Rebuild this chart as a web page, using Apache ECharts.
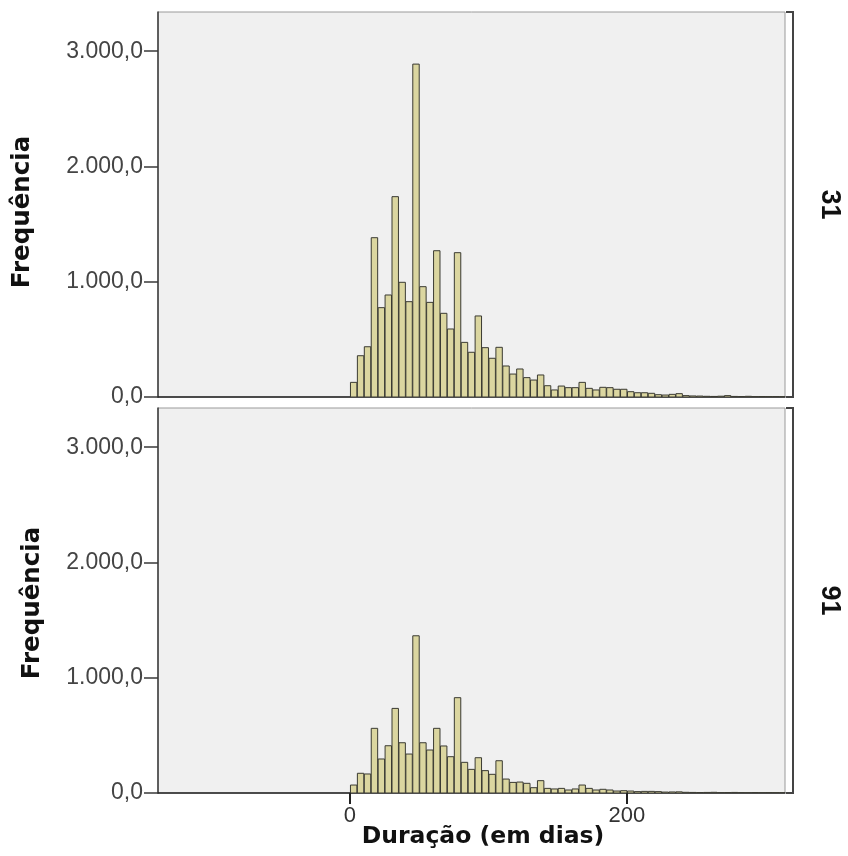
<!DOCTYPE html>
<html>
<head>
<meta charset="utf-8">
<script src="https://cdn.jsdelivr.net/npm/echarts@6/dist/echarts.min.js"></script>
<style>
html,body{margin:0;padding:0;background:#ffffff;}
#chart{width:848px;height:856px;}
</style>
</head>
<body>
<div id="chart"></div>
<script>
// ---- data ----
var BIN_WIDTH = 5;           // days per bin (bins start at 0)
var panelLabels = ['31', '91'];
var freq31 = [127, 358, 436, 1382, 775, 885, 1738, 995, 827, 2888,
              957, 821, 1269, 726, 590, 1252, 474, 388, 703, 428,
              336, 431, 269, 199, 243, 168, 147, 191, 98, 61,
              95, 81, 81, 127, 75, 61, 84, 81, 67, 67,
              46, 37, 37, 32, 20, 17, 23, 29, 12, 9,
              8, 6, 5, 7, 12, 5, 4, 6, 3, 4,
              3, 3, 2];
var freq91 = [69, 171, 165, 561, 295, 410, 734, 436, 338, 1364,
              436, 373, 561, 408, 315, 827, 266, 205, 306, 194,
              162, 280, 121, 92, 95, 84, 46, 107, 40, 35,
              40, 26, 35, 69, 40, 26, 32, 26, 17, 20,
              17, 12, 14, 14, 12, 8, 9, 10, 6, 5,
              4, 5, 6, 3, 4, 5, 3, 2, 4, 2,
              3, 2, 2];
var xTicks = [0, 200];
var yTicks = [0, 1000, 2000, 3000];
var xMin = -138.6, xMax = 314.1;
var yMin = 0, yMax = 3340;

// ---- styling ----
var BAR_FILL = '#dbd6a0';
var BAR_STROKE = '#3a3a32';
var PLOT_BG = '#f0f0f0';

function toBins(arr) {
  return arr.map(function (v, i) { return [i * BIN_WIDTH, (i + 1) * BIN_WIDTH, v]; });
}
function fmtNum(v) {
  var s = String(Math.round(v));
  s = s.replace(/\B(?=(\d{3})+(?!\d))/g, '.');
  return s + ',0';
}

var G = { left: 158, width: 627, top1: 12, top2: 408, height: 385 };

function renderBar(params, api) {
  var p0 = api.coord([api.value(0), api.value(2)]);
  var p1 = api.coord([api.value(1), 0]);
  return {
    type: 'rect',
    shape: { x: p0[0] + 0.5, y: p0[1], width: p1[0] - p0[0] - 0.5, height: p1[1] - p0[1] },
    style: { fill: BAR_FILL, stroke: BAR_STROKE, lineWidth: 1 }
  };
}

function yAxisCfg(idx) {
  return {
    type: 'value', gridIndex: idx, min: yMin, max: yMax,
    splitLine: { show: false },
    axisLine: { show: true, onZero: false, lineStyle: { color: '#3a3a3a', width: 1.5 } },
    axisTick: { show: true, length: 14, customValues: yTicks, lineStyle: { color: '#3a3a3a', width: 1.5 } },
    axisLabel: { customValues: yTicks, formatter: fmtNum, margin: 15,
                 fontFamily: 'Liberation Sans', fontSize: 23, color: '#444' }
  };
}
function xAxisCfg(idx, showLabels) {
  return {
    type: 'value', gridIndex: idx, min: xMin, max: xMax,
    splitLine: { show: false },
    axisLine: { show: true, onZero: false, lineStyle: { color: '#222', width: 1.5 } },
    axisTick: { show: showLabels, length: 11, customValues: xTicks, lineStyle: { color: '#222', width: 2 } },
    axisLabel: { show: showLabels, customValues: xTicks, margin: 12,
                 fontFamily: 'Liberation Sans', fontSize: 22, color: '#333' }
  };
}

var chart = echarts.init(document.getElementById('chart'), null, { renderer: 'canvas' });

var bracketX = 793, stubX = 786;
function bracket(top, h) {
  return {
    type: 'polyline', silent: true,
    shape: { points: [[stubX, top], [bracketX, top], [bracketX, top + h], [stubX, top + h]] },
    style: { stroke: '#444', lineWidth: 2, fill: null }
  };
}
function facetText(txt, cy) {
  return {
    type: 'text', x: 829, y: cy, rotation: -Math.PI / 2, silent: true,
    style: { text: txt, fontFamily: 'Liberation Sans', fontWeight: 'bold', fontSize: 27,
             fill: '#111', align: 'center', verticalAlign: 'middle' }
  };
}
function yTitle(x, cy) {
  return {
    type: 'text', x: x, y: cy, rotation: Math.PI / 2, silent: true,
    style: { text: 'Frequência', fontFamily: 'DejaVu Sans', fontWeight: 'bold', fontSize: 24.5,
             fill: '#111', align: 'center', verticalAlign: 'middle' }
  };
}

chart.setOption({
  animation: false,
  backgroundColor: '#ffffff',
  grid: [
    { left: G.left, top: G.top1, width: G.width, height: G.height, show: true,
      backgroundColor: PLOT_BG, borderColor: '#9a9a9a', borderWidth: 1 },
    { left: G.left, top: G.top2, width: G.width, height: G.height, show: true,
      backgroundColor: PLOT_BG, borderColor: '#9a9a9a', borderWidth: 1 }
  ],
  xAxis: [xAxisCfg(0, false), xAxisCfg(1, true)],
  yAxis: [yAxisCfg(0), yAxisCfg(1)],
  series: [
    { type: 'custom', name: panelLabels[0], xAxisIndex: 0, yAxisIndex: 0,
      data: toBins(freq31), encode: { x: [0, 1], y: 2 }, renderItem: renderBar, clip: true },
    { type: 'custom', name: panelLabels[1], xAxisIndex: 1, yAxisIndex: 1,
      data: toBins(freq91), encode: { x: [0, 1], y: 2 }, renderItem: renderBar, clip: true }
  ],
  graphic: [
    bracket(G.top1, G.height),
    bracket(G.top2, G.height),
    facetText(panelLabels[0], G.top1 + G.height / 2),
    facetText(panelLabels[1], G.top2 + G.height / 2),
    yTitle(23, 212),
    yTitle(33, 603),
    { type: 'text', x: 483, y: 837, silent: true,
      style: { text: 'Duração (em dias)', fontFamily: 'DejaVu Sans', fontWeight: 'bold', fontSize: 23.5,
               fill: '#111', align: 'center', verticalAlign: 'middle' } }
  ]
});
</script>
</body>
</html>
